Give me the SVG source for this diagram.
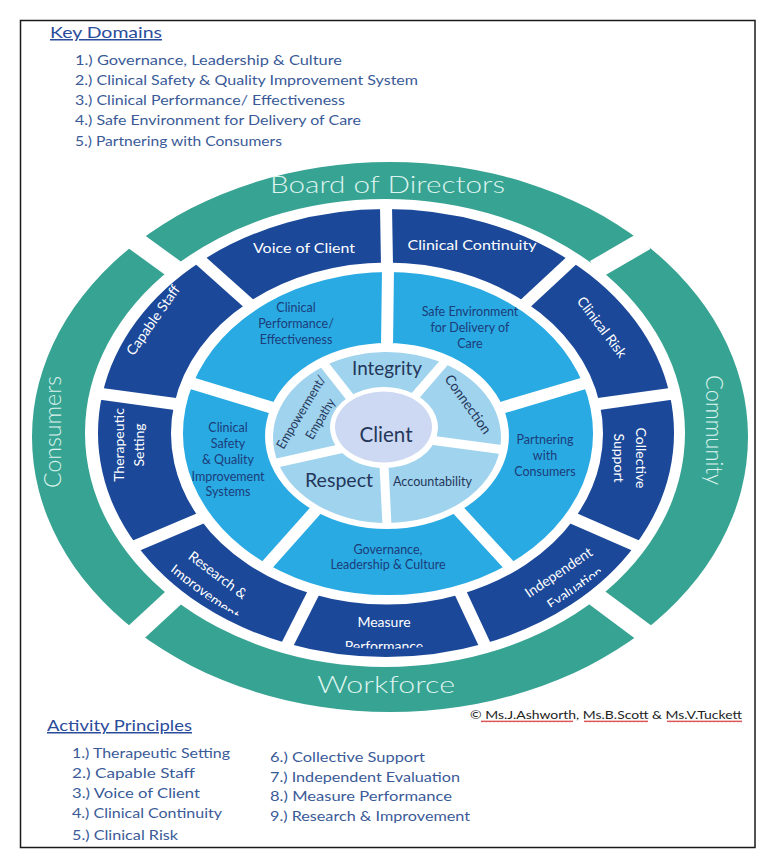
<svg xmlns="http://www.w3.org/2000/svg" width="778" height="860" viewBox="0 0 778 860">
<style>
text{font-family:Lato,'Liberation Sans',sans-serif;text-anchor:middle}
.teal{fill:#37a392}
.dark{fill:#1b4899}
.light{fill:#29aae2}
.pale{fill:#a0d3ee}
.client{fill:#cdd8f2}
.tt{fill:#dcf3ee;font-size:24px;font-weight:300}
.dt{fill:#ffffff;font-size:14px}
.lt{fill:#1c3c7a;font-size:12.5px}
.pt{fill:#24375a}
.sep{stroke:#ffffff;stroke-linecap:butt;fill:none}
.head{text-anchor:start;fill:#2b4c9b;font-size:15px;text-decoration:underline}
.item{text-anchor:start;fill:#3a5a98;font-size:14px}
</style>
<defs>
<clipPath id="clipDarkText">
<path clip-rule="evenodd" d="M106,433 A280,216 0 1 0 666,433 A280,216 0 1 0 106,433 Z M163,433.5 A224,179 0 1 0 611,433.5 A224,179 0 1 0 163,433.5 Z"/>
</clipPath>
<pattern id="squig" width="4" height="3" patternUnits="userSpaceOnUse">
<path d="M0,2.2 L1,0.6 L2,2.2 L3,0.6 L4,2.2" stroke="#d02020" stroke-width="0.8" fill="none"/>
</pattern>
</defs>
<rect x="0" y="0" width="778" height="860" fill="#ffffff"/>
<rect x="20.5" y="20.5" width="734.5" height="827" fill="none" stroke="#1a1a1a" stroke-width="1.5"/>

<g id="key-domains">
<text class="head" x="50" y="38" textLength="112" lengthAdjust="spacingAndGlyphs">Key Domains</text>
<text class="item" x="75" y="65" textLength="267" lengthAdjust="spacingAndGlyphs">1.) Governance, Leadership &amp; Culture</text>
<text class="item" x="75" y="85" textLength="343" lengthAdjust="spacingAndGlyphs">2.) Clinical Safety &amp; Quality Improvement System</text>
<text class="item" x="75" y="105" textLength="270" lengthAdjust="spacingAndGlyphs">3.) Clinical Performance/ Effectiveness</text>
<text class="item" x="75" y="125" textLength="286" lengthAdjust="spacingAndGlyphs">4.) Safe Environment for Delivery of Care</text>
<text class="item" x="75" y="146" textLength="207" lengthAdjust="spacingAndGlyphs">5.) Partnering with Consumers</text>
</g>

<!-- Outer teal ring -->
<g id="board-of-directors">
<path class="teal" d="M136.9,242.5 A358,275 0 0 1 643.1,242.5 L597.1,267.5 A300,234 0 0 0 172.9,267.5 Z"/>
<text class="tt" x="387.5" y="193" font-size="25" textLength="235" lengthAdjust="spacingAndGlyphs">Board of Directors</text>
</g>
<g id="community">
<path class="teal" d="M643.1,242.5 A358,275 0 0 1 643.1,631.5 L597.1,598.5 A300,234 0 0 0 597.1,267.5 Z"/>
<text class="tt" transform="translate(706,430) rotate(90)" textLength="110" lengthAdjust="spacingAndGlyphs">Community</text>
</g>
<g id="workforce">
<path class="teal" d="M643.1,631.5 A358,275 0 0 1 136.9,631.5 L172.9,598.5 A300,234 0 0 0 597.1,598.5 Z"/>
<text class="tt" x="386" y="693" font-size="23" textLength="138" lengthAdjust="spacingAndGlyphs">Workforce</text>
</g>
<g id="consumers">
<path class="teal" d="M136.9,631.5 A358,275 0 0 1 136.9,242.5 L172.9,267.5 A300,234 0 0 0 172.9,598.5 Z"/>
<text class="tt" transform="translate(61,432) rotate(-90)" textLength="112" lengthAdjust="spacingAndGlyphs">Consumers</text>
</g>

<!-- Dark ring: activity principles -->
<g id="voice-of-client">
<path class="dark" d="M200.9,261.4 A288,224 0 0 1 386,209 L387,262.5 A216,171 0 0 0 248.2,302.5 Z"/>
<text class="dt" x="304" y="253" textLength="102" lengthAdjust="spacingAndGlyphs">Voice of Client</text>
</g>
<g id="clinical-continuity">
<path class="dark" d="M386,209 A288,224 0 0 1 571.1,261.4 L525.8,302.5 A216,171 0 0 0 387,262.5 Z"/>
<text class="dt" x="472" y="250" textLength="129" lengthAdjust="spacingAndGlyphs">Clinical Continuity</text>
</g>
<g id="clinical-risk">
<path class="dark" d="M571.1,261.4 A288,224 0 0 1 669.6,394.1 L599.7,403.8 A216,171 0 0 0 525.8,302.5 Z"/>
<text class="dt" transform="translate(602,327) rotate(53)" y="5" textLength="72" lengthAdjust="spacingAndGlyphs">Clinical Risk</text>
</g>
<g id="collective-support">
<path class="dark" d="M669.6,394.1 A288,224 0 0 1 635.4,545 L574.1,519 A216,171 0 0 0 599.7,403.8 Z"/>
<g clip-path="url(#clipDarkText)"><g transform="translate(629,458) rotate(90)">
<text class="dt" y="-6.5">Collective</text>
<text class="dt" y="15.5">Support</text>
</g></g>
</g>
<g id="independent-evaluation">
<path class="dark" d="M635.4,545 A288,224 0 0 1 484.5,643.5 L460.9,594.2 A216,171 0 0 0 574.1,519 Z"/>
<g clip-path="url(#clipDarkText)"><g transform="translate(567,580.5) rotate(-34)">
<text class="dt" x="-2.5" y="-6.5">Independent</text>
<text class="dt" x="2.5" y="15.5">Evaluation</text>
</g></g>
</g>
<g id="measure-performance">
<path class="dark" d="M484.5,643.5 A288,224 0 0 1 287.5,643.5 L313.1,594.2 A216,171 0 0 0 460.9,594.2 Z"/>
<g clip-path="url(#clipDarkText)">
<text class="dt" x="384" y="627">Measure</text>
<text class="dt" x="384" y="651">Performance</text>
</g>
</g>
<g id="research-improvement">
<path class="dark" d="M287.5,643.5 A288,224 0 0 1 136.6,545 L199.9,519 A216,171 0 0 0 313.1,594.2 Z"/>
<g clip-path="url(#clipDarkText)"><g transform="translate(211,584) rotate(37)">
<text class="dt" y="-6.3">Research &amp;</text>
<text class="dt" y="15.3">Improvement</text>
</g></g>
</g>
<g id="therapeutic-setting">
<path class="dark" d="M136.6,545 A288,224 0 0 1 102.4,394.1 L174.3,403.8 A216,171 0 0 0 199.9,519 Z"/>
<g transform="translate(129,445) rotate(-90)">
<text class="dt" y="-5.5">Therapeutic</text>
<text class="dt" y="14.5">Setting</text>
</g>
</g>
<g id="capable-staff">
<path class="dark" d="M102.4,394.1 A288,224 0 0 1 200.9,261.4 L248.2,302.5 A216,171 0 0 0 174.3,403.8 Z"/>
<text class="dt" transform="translate(153,320) rotate(-55)" y="5" textLength="82" lengthAdjust="spacingAndGlyphs">Capable Staff</text>
</g>

<!-- Light ring: key domains -->
<g id="clinical-performance">
<path class="light" d="M193,383.6 A205,161.5 0 0 1 388,272 L387,343 A122,93 0 0 0 271,407.3 Z"/>
<text class="lt" x="296" y="312">Clinical</text>
<text class="lt" x="296" y="328">Performance/</text>
<text class="lt" x="296" y="344">Effectiveness</text>
</g>
<g id="safe-environment">
<path class="light" d="M388,272 A205,161.5 0 0 1 583,383.6 L503,407.3 A122,93 0 0 0 387,343 Z"/>
<text class="lt" x="470" y="316">Safe Environment</text>
<text class="lt" x="470" y="332">for Delivery of</text>
<text class="lt" x="470" y="348">Care</text>
</g>
<g id="partnering-with-consumers">
<path class="light" d="M583,383.6 A205,161.5 0 0 1 508.5,564.2 L458.7,511.2 A122,93 0 0 0 503,407.3 Z"/>
<text class="lt" x="545" y="444">Partnering</text>
<text class="lt" x="545" y="460">with</text>
<text class="lt" x="545" y="476">Consumers</text>
</g>
<g id="governance-leadership-culture">
<path class="light" d="M508.5,564.2 A205,161.5 0 0 1 267.5,564.2 L315.3,511.2 A122,93 0 0 0 458.7,511.2 Z"/>
<text class="lt" x="388" y="554">Governance,</text>
<text class="lt" x="388" y="569">Leadership &amp; Culture</text>
</g>
<g id="clinical-safety-quality">
<path class="light" d="M267.5,564.2 A205,161.5 0 0 1 193,383.6 L271,407.3 A122,93 0 0 0 315.3,511.2 Z"/>
<text class="lt" x="228" y="432">Clinical</text>
<text class="lt" x="228" y="448">Safety</text>
<text class="lt" x="228" y="464">&amp; Quality</text>
<text class="lt" x="228" y="481">Improvement</text>
<text class="lt" x="228" y="496">Systems</text>
</g>

<!-- Pale ring: values -->
<g id="integrity">
<path class="pale" d="M324.9,365.8 A114,85.5 0 0 1 444,363.5 L415.7,394.7 A54,40.5 0 0 0 349.3,396.5 Z"/>
<text class="pt" x="387" y="375" font-size="19" textLength="70" lengthAdjust="spacingAndGlyphs">Integrity</text>
</g>
<g id="connection">
<path class="pale" d="M444,363.5 A114,85.5 0 0 1 499.9,449.4 L434.7,441.4 A54,40.5 0 0 0 415.7,394.7 Z"/>
<text class="pt" transform="translate(464,407) rotate(54.5)" font-size="14" textLength="69" lengthAdjust="spacingAndGlyphs">Connection</text>
</g>
<g id="accountability">
<path class="pale" d="M499.9,449.4 A114,85.5 0 0 1 387,523 L384,468 A54,40.5 0 0 0 434.7,441.4 Z"/>
<text class="pt" x="432.5" y="486" font-size="12.5" textLength="79" lengthAdjust="spacingAndGlyphs">Accountability</text>
</g>
<g id="respect">
<path class="pale" d="M387,523 A114,85.5 0 0 1 278,462.5 L339.2,450.1 A54,40.5 0 0 0 384,468 Z"/>
<text class="pt" x="339" y="487" font-size="19" textLength="68" lengthAdjust="spacingAndGlyphs">Respect</text>
</g>
<g id="empowerment-empathy">
<path class="pale" d="M278,462.5 A114,85.5 0 0 1 324.9,365.8 L349.3,396.5 A54,40.5 0 0 0 339.2,450.1 Z"/>
<g transform="translate(301,412) rotate(-59)">
<text class="pt" y="4.5" font-size="13" textLength="83" lengthAdjust="spacingAndGlyphs">Empowerment/</text>
<text class="pt" x="4" y="24.5" font-size="13" textLength="45" lengthAdjust="spacingAndGlyphs">Empathy</text>
</g>
</g>

<g id="client">
<ellipse class="client" cx="383.5" cy="427" rx="48.5" ry="35.5"/>
<text class="pt" x="386" y="442" font-size="21" textLength="53" lengthAdjust="spacingAndGlyphs">Client</text>
</g>

<!-- white separators between segments -->
<g id="separators" class="sep">
<g stroke-width="20">
<line x1="595" y1="269.7" x2="645.3" y2="240.4"/>
<line x1="175" y1="269.7" x2="134.7" y2="240.4"/>
<line x1="175" y1="596.3" x2="134.7" y2="633.6"/>
<line x1="595" y1="596.3" x2="645.3" y2="633.6"/>
</g>
<g stroke-width="12">
<line x1="387" y1="265.5" x2="386" y2="206"/>
<line x1="523.9" y1="304.8" x2="573.1" y2="259.1"/>
<line x1="596.8" y1="404.3" x2="672.6" y2="393.6"/>
<line x1="571.5" y1="517.5" x2="638" y2="546.5"/>
<line x1="459.8" y1="591.4" x2="485.5" y2="646.3"/>
<line x1="314.2" y1="591.4" x2="286.5" y2="646.3"/>
<line x1="202.5" y1="517.5" x2="134" y2="546.5"/>
<line x1="177.2" y1="404.3" x2="99.4" y2="393.6"/>
<line x1="250.1" y1="304.8" x2="198.9" y2="259.1"/>
</g>
<g stroke-width="12">
<line x1="387" y1="346" x2="388" y2="269"/>
<line x1="500.2" y1="408.2" x2="585.8" y2="382.7"/>
<line x1="456.9" y1="508.8" x2="510.3" y2="566.6"/>
<line x1="317.1" y1="508.8" x2="265.7" y2="566.6"/>
<line x1="273.8" y1="408.2" x2="190.2" y2="382.7"/>
</g>
<g stroke-width="9">
<line x1="351.2" y1="398.8" x2="323.3" y2="363.3"/>
<line x1="414" y1="397.2" x2="445.5" y2="360.9"/>
<line x1="431.9" y1="440.3" x2="502.9" y2="449.8"/>
<line x1="384" y1="465" x2="387" y2="526"/>
<line x1="341.7" y1="448.5" x2="275.1" y2="463.4"/>
</g>
</g>

<g id="copyright">
<text x="470" y="719" font-size="11" fill="#222222" style="text-anchor:start" textLength="272" lengthAdjust="spacingAndGlyphs">© Ms.J.Ashworth, Ms.B.Scott &amp; Ms.V.Tuckett</text>
<rect x="481" y="720" width="92" height="3" fill="url(#squig)"/>
<rect x="584" y="720" width="64" height="3" fill="url(#squig)"/>
<rect x="667" y="720" width="75" height="3" fill="url(#squig)"/>
</g>

<g id="activity-principles">
<text class="head" x="47" y="731" textLength="145" lengthAdjust="spacingAndGlyphs">Activity Principles</text>
<text class="item" x="72" y="758" textLength="158" lengthAdjust="spacingAndGlyphs">1.) Therapeutic Setting</text>
<text class="item" x="72" y="778" textLength="123" lengthAdjust="spacingAndGlyphs">2.) Capable Staff</text>
<text class="item" x="72" y="798" textLength="128" lengthAdjust="spacingAndGlyphs">3.) Voice of Client</text>
<text class="item" x="72" y="818" textLength="150" lengthAdjust="spacingAndGlyphs">4.) Clinical Continuity</text>
<text class="item" x="72" y="840" textLength="106" lengthAdjust="spacingAndGlyphs">5.) Clinical Risk</text>
<text class="item" x="270" y="762" textLength="155" lengthAdjust="spacingAndGlyphs">6.) Collective Support</text>
<text class="item" x="270" y="782" textLength="190" lengthAdjust="spacingAndGlyphs">7.) Independent Evaluation</text>
<text class="item" x="270" y="801" textLength="182" lengthAdjust="spacingAndGlyphs">8.) Measure Performance</text>
<text class="item" x="270" y="821" textLength="200" lengthAdjust="spacingAndGlyphs">9.) Research &amp; Improvement</text>
</g>
</svg>
